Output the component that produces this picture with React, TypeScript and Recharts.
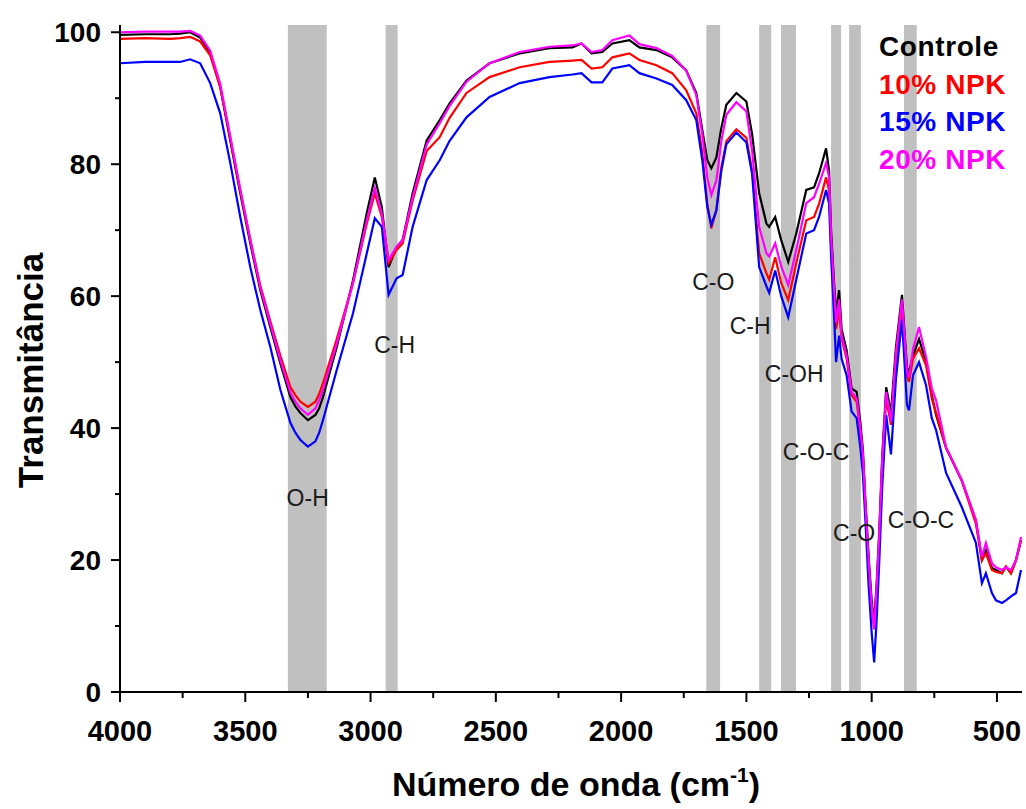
import React from 'react';
import {
  LineChart,
  Line,
  XAxis,
  YAxis,
  ReferenceArea,
  ReferenceDot,
  Legend,
} from 'recharts';

// wavenumber (cm-1) and transmittance (%)
const WAVENUMBER = [
  4000, 3900, 3800, 3760, 3720, 3680, 3640, 3600, 3560, 3520, 3480, 3440, 3400, 3360, 3320, 3300,
  3280, 3250, 3220, 3205, 3190, 3135, 3070, 3015, 2983, 2955, 2928, 2896, 2872, 2832, 2776, 2724,
  2685, 2617, 2525, 2405, 2286, 2194, 2158, 2118, 2075, 2035, 1967, 1927, 1859, 1796, 1740, 1700,
  1676, 1656, 1640, 1620, 1600, 1580, 1540, 1500, 1477, 1449, 1420, 1409, 1385, 1361, 1333, 1301,
  1261, 1230, 1210, 1182, 1170, 1162, 1150, 1142, 1130, 1120, 1100, 1080, 1060, 1045, 1035, 1025,
  1012, 1000, 990, 980, 970, 958, 942, 923, 903, 879, 859, 851, 835, 811, 783, 760,
  743, 703, 640, 584, 560, 544, 520, 504, 480, 464, 444, 424, 404,
];

const CONTROLE = [
  99.6, 99.7, 99.7, 99.8, 100.0, 99.2, 96.8, 91.7, 83.6, 75.6, 68.0, 60.9, 55.3, 49.8, 44.7, 43.3,
  42.3, 41.2, 42.0, 43.0, 44.7, 52.3, 62.4, 72.6, 78.0, 73.5, 64.4, 67.4, 68.5, 75.6, 83.6, 86.7,
  89.2, 92.7, 95.3, 96.8, 97.6, 97.7, 98.3, 96.8, 97.0, 98.3, 98.8, 97.7, 97.3, 96.2, 94.2, 90.8,
  85.2, 80.6, 79.4, 81.0, 85.5, 89.0, 90.8, 89.5, 84.5, 75.6, 71.0, 70.5, 72.0, 68.5, 65.2, 69.5,
  76.1, 76.5, 78.6, 82.4, 79.0, 70.0, 62.0, 57.5, 60.9, 55.0, 51.8, 46.0, 45.5, 40.8, 36.7, 29.1,
  20.5, 13.9, 10.5, 16.5, 24.1, 35.6, 46.2, 42.3, 52.3, 60.2, 49.2, 48.5, 51.0, 53.5, 50.0, 45.0,
  42.0, 37.0, 32.0, 26.0, 20.0, 21.5, 18.8, 18.5, 18.0, 19.0, 18.0, 20.0, 23.0,
];

const NPK10 = [
  99.0, 99.1, 99.0, 99.1, 99.3, 98.6, 96.5, 91.7, 84.0, 76.0, 68.6, 61.6, 56.2, 51.0, 46.2, 45.0,
  44.0, 43.2, 44.0, 45.2, 46.8, 53.5, 62.0, 71.0, 75.6, 72.0, 65.0, 67.0, 68.0, 74.5, 82.0, 84.1,
  87.0, 90.8, 93.2, 94.7, 95.5, 95.7, 95.8, 94.5, 94.7, 96.2, 96.8, 95.8, 95.0, 93.8, 91.2, 87.7,
  81.7, 74.0, 70.3, 73.0, 79.5, 83.5, 85.3, 84.0, 79.0, 66.5, 63.5, 62.5, 65.9, 62.0, 59.4, 65.0,
  71.5, 72.0, 74.0, 78.0, 76.0, 68.0, 60.0, 55.0, 58.0, 53.5, 50.5, 45.0, 44.0, 39.5, 35.5, 28.0,
  19.5, 12.5, 9.8, 15.5, 23.0, 34.5, 44.5, 40.5, 50.5, 58.5, 48.0, 47.0, 50.5, 52.1, 49.5, 44.5,
  42.3, 37.0, 32.0, 25.5, 20.0, 21.0, 18.5, 18.2, 18.0, 19.0, 18.0, 20.0, 23.0,
];

const NPK15 = [
  95.3, 95.5, 95.5, 95.5, 95.9, 95.3, 92.3, 87.7, 80.2, 72.0, 64.4, 57.9, 52.3, 45.8, 40.8, 39.3,
  38.2, 37.2, 38.0, 39.3, 41.2, 48.8, 57.4, 66.5, 71.8, 70.5, 60.2, 62.7, 63.2, 70.5, 77.6, 80.6,
  83.5, 87.1, 90.2, 92.3, 93.2, 93.6, 93.8, 92.4, 92.4, 94.5, 95.0, 93.8, 93.0, 92.0, 89.7, 86.7,
  80.6, 73.5, 70.8, 73.0, 79.0, 83.0, 84.8, 83.3, 78.5, 64.4, 61.5, 60.5, 63.9, 60.0, 56.8, 62.5,
  69.5, 70.0, 72.0, 76.1, 74.0, 66.0, 57.0, 50.0, 54.0, 50.5, 48.0, 42.5, 41.5, 37.0, 33.0, 26.0,
  16.0, 9.0, 4.5, 11.0, 19.5, 31.0, 42.0, 36.0, 47.5, 56.5, 43.5, 42.7, 48.0, 50.0, 46.5, 41.5,
  39.7, 33.2, 28.0, 22.6, 16.5, 18.0, 15.0, 13.9, 13.5, 13.9, 14.5, 15.0, 18.5,
];

const NPK20 = [
  100.0, 100.1, 100.1, 100.1, 100.2, 99.5, 97.2, 92.2, 84.2, 76.2, 68.5, 61.3, 55.8, 50.3, 45.4, 44.0,
  43.0, 42.0, 43.0, 44.2, 45.8, 52.8, 62.0, 71.5, 76.4, 72.5, 65.5, 67.5, 68.5, 75.0, 83.0, 86.2,
  88.8, 92.5, 95.3, 97.0, 97.8, 98.0, 98.3, 97.0, 97.3, 98.8, 99.5, 98.2, 97.6, 96.4, 94.2, 90.5,
  84.5, 78.0, 75.3, 77.5, 83.5, 87.5, 89.4, 88.0, 82.0, 70.5, 66.5, 66.0, 68.0, 64.5, 61.7, 67.0,
  74.1, 75.0, 77.0, 80.2, 78.0, 69.0, 61.0, 56.0, 59.5, 54.0, 51.0, 45.5, 44.5, 40.0, 36.0, 28.5,
  19.8, 13.0, 9.5, 16.0, 23.5, 35.0, 45.5, 41.0, 51.5, 59.5, 48.5, 47.7, 52.0, 55.3, 50.8, 46.0,
  44.2, 37.1, 32.1, 26.1, 20.5, 22.6, 19.5, 18.9, 18.5, 18.9, 18.5, 20.0, 23.5,
];

const SERIES = [
  { key: 'controle', name: 'Controle', color: '#000000', values: CONTROLE },
  { key: 'npk10', name: '10% NPK', color: '#ff0000', values: NPK10 },
  { key: 'npk15', name: '15% NPK', color: '#0000ff', values: NPK15 },
  { key: 'npk20', name: '20% NPK', color: '#ff00ff', values: NPK20 },
];

// shaded absorption bands [from, to] in cm-1
const BANDS = [
  [3330, 3175],
  [2940, 2892],
  [1660, 1605],
  [1449, 1401],
  [1362, 1302],
  [1162, 1122],
  [1090, 1043],
  [871, 820],
];

const ANNOTATIONS = [
  { text: 'O-H', x: 3251, y: 29.5 },
  { text: 'C-H', x: 2904, y: 52.6 },
  { text: 'C-O', x: 1632, y: 62.1 },
  { text: 'C-H', x: 1485, y: 55.5 },
  { text: 'C-OH', x: 1309, y: 48.3 },
  { text: 'C-O-C', x: 1222, y: 36.4 },
  { text: 'C-O', x: 1070, y: 24.1 },
  { text: 'C-O-C', x: 803, y: 26.1 },
];

const X_TICKS = [4000, 3750, 3500, 3250, 3000, 2750, 2500, 2250, 2000, 1750, 1500, 1250, 1000, 750, 500];
const Y_TICKS = [0, 10, 20, 30, 40, 50, 60, 70, 80, 90, 100];

const data = WAVENUMBER.map((wn, i) => {
  const row: Record<string, number> = { wn };
  SERIES.forEach((s) => {
    row[s.key] = s.values[i];
  });
  return row;
});

const FONT = '"Liberation Sans", Arial, sans-serif';

const XTick = (props: any) => {
  const { x, y, payload } = props;
  const major = payload.value % 500 === 0;
  return (
    <g>
      <line x1={x} y1={y} x2={x} y2={y + (major ? 10 : 6)} stroke="#000" strokeWidth={2} />
      {major && (
        <text x={x} y={y + 49} textAnchor="middle" fontFamily={FONT} fontWeight="bold" fontSize={29} fill="#000">
          {payload.value}
        </text>
      )}
    </g>
  );
};

const YTick = (props: any) => {
  const { x, y, payload } = props;
  const major = payload.value % 20 === 0;
  return (
    <g>
      <line x1={x} y1={y} x2={x - (major ? 9 : 5)} y2={y} stroke="#000" strokeWidth={2} />
      {major && (
        <text x={x - 19} y={y + 10} textAnchor="end" fontFamily={FONT} fontWeight="bold" fontSize={28} fill="#000">
          {payload.value}
        </text>
      )}
    </g>
  );
};

const XTitle = (props: any) => {
  const { x, y, width } = props.viewBox;
  return (
    <text x={x + width / 2 + 5} y={y + 104} textAnchor="middle" fontFamily={FONT} fontWeight="bold" fontSize={34} fill="#000">
      Número de onda (cm
      <tspan fontSize={21} dy={-14}>-1</tspan>
      <tspan dy={14}>)</tspan>
    </text>
  );
};

const YTitle = (props: any) => {
  const { y, height } = props.viewBox;
  const cx = 43;
  const cy = y + height / 2 + 12;
  return (
    <text
      x={cx}
      y={cy}
      transform={`rotate(-90 ${cx} ${cy})`}
      textAnchor="middle"
      fontFamily={FONT}
      fontWeight="bold"
      fontSize={35}
      fill="#000"
    >
      Transmitância
    </text>
  );
};

const LegendBox = () => (
  <div style={{ fontFamily: FONT, fontWeight: 'bold', fontSize: 28, lineHeight: '37.5px', letterSpacing: 0.6 }}>
    {SERIES.map((s) => (
      <div key={s.key} style={{ color: s.color, whiteSpace: 'nowrap' }}>
        {s.name}
      </div>
    ))}
  </div>
);

export default function App() {
  return (
    <div style={{ position: 'absolute', left: 0, top: 0, background: '#fff' }}>
      <LineChart width={1026} height={809} data={data} margin={{ top: 25, right: 4, left: 0, bottom: 0 }}>
        <XAxis
          dataKey="wn"
          type="number"
          domain={[400, 4000]}
          reversed
          ticks={X_TICKS}
          interval={0}
          tick={<XTick />}
          tickSize={0}
          tickMargin={0}
          tickLine={false}
          axisLine={{ stroke: '#000', strokeWidth: 2 }}
          height={117}
          label={<XTitle />}
        />
        <XAxis
          xAxisId="top"
          orientation="top"
          dataKey="wn"
          type="number"
          domain={[400, 4000]}
          reversed
          tick={false}
          tickLine={false}
          axisLine={{ stroke: '#000', strokeWidth: 2 }}
          height={0}
        />
        <YAxis
          type="number"
          domain={[0, 101.1]}
          ticks={Y_TICKS}
          interval={0}
          tick={<YTick />}
          tickSize={0}
          tickMargin={0}
          tickLine={false}
          axisLine={{ stroke: '#000', strokeWidth: 2 }}
          width={120}
          label={<YTitle />}
        />
        <YAxis
          yAxisId="right"
          orientation="right"
          type="number"
          domain={[0, 101.1]}
          tick={false}
          tickLine={false}
          axisLine={{ stroke: '#000', strokeWidth: 2 }}
          width={0}
        />
        {BANDS.map(([a, b], i) => (
          <ReferenceArea key={i} x1={a} x2={b} fill="#c0c0c0" fillOpacity={1} stroke="none" />
        ))}
        {SERIES.map((s) => (
          <Line
            key={s.key}
            type="linear"
            dataKey={s.key}
            name={s.name}
            stroke={s.color}
            strokeWidth={2.2}
            dot={false}
            isAnimationActive={false}
          />
        ))}
        {ANNOTATIONS.map((a, i) => (
          <ReferenceDot
            key={i}
            x={a.x}
            y={a.y}
            r={0}
            fill="none"
            stroke="none"
            label={{ value: a.text, position: 'center', fill: '#1a1a1a', fontSize: 23, fontFamily: FONT }}
          />
        ))}
        <Legend
          layout="horizontal"
          verticalAlign="middle"
          align="center"
          content={<LegendBox />}
          wrapperStyle={{ top: 28, left: 879, width: 'auto', height: 'auto' }}
        />
      </LineChart>
    </div>
  );
}
